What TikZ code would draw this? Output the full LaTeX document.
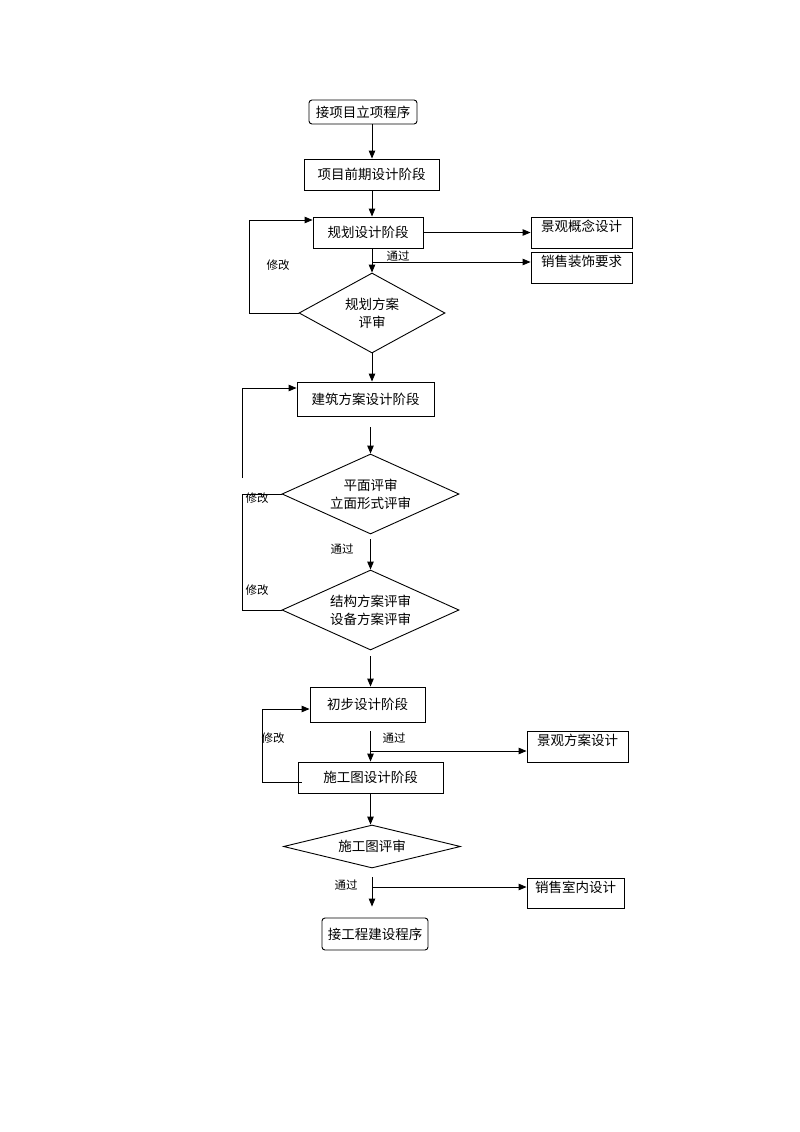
\documentclass[tikz,border=0pt]{standalone}
\usepackage{fontspec}
\setmainfont{Noto Sans CJK SC}
\usetikzlibrary{arrows.meta,shapes.geometric,calc}
\tikzset{
  every node/.style={font=\fontsize{13.5}{18}\selectfont},
  box/.style={draw, line width=0.9pt, inner sep=0pt, align=center},
  rbox/.style={box, rounded corners=3pt},
  side/.style={box, text height=10pt, text depth=12pt, inner ysep=4.5pt},
  dia/.style={draw, diamond, line width=0.9pt, inner sep=0pt, align=center},
  lbl/.style={font=\fontsize{11.5}{13}\selectfont, inner sep=0pt},
  arr/.style={line width=0.9pt, -{Triangle[length=8pt,width=6.5pt]}},
  ln/.style={line width=0.9pt},
}
\begin{document}
\begin{tikzpicture}[x=1pt,y=-1pt]
\useasboundingbox (0,0) rectangle (800,1132);
\fill[white] (0,0) rectangle (800,1132);
% nodes
\node[rbox, minimum width=108pt, minimum height=24pt] (n1) at (363,112) {接项目立项程序};
\node[box, minimum width=135pt, minimum height=31pt] (n2) at (371.5,174.5) {项目前期设计阶段};
\node[box, minimum width=110pt, minimum height=31pt] (n3) at (368,232.5) {规划设计阶段};
\node[side, minimum width=101pt, minimum height=31pt] (s1) at (581.5,232.5) {景观概念设计};
\node[side, minimum width=101pt, minimum height=31pt] (s2) at (581.5,267.5) {销售装饰要求};
\node[dia, aspect=1.825, minimum width=146pt, minimum height=80pt] (d1) at (372,313) {规划方案\\评审};
\node[box, minimum width=137pt, minimum height=34pt] (n4) at (365.5,399) {建筑方案设计阶段};
\node[dia, aspect=2.21, minimum width=177pt, minimum height=80pt] (d2) at (370.5,494) {平面评审\\立面形式评审};
\node[dia, aspect=2.21, minimum width=177pt, minimum height=80pt] (d3) at (370.5,610) {结构方案评审\\设备方案评审};
\node[box, minimum width=115pt, minimum height=35pt] (n5) at (367.5,704.5) {初步设计阶段};
\node[side, minimum width=101pt, minimum height=31pt] (s3) at (577.5,746.5) {景观方案设计};
\node[box, minimum width=145pt, minimum height=31pt] (n6) at (370.5,777.5) {施工图设计阶段};
\node[dia, aspect=4.1, minimum width=177pt, minimum height=43pt] (d4) at (372,846.5) {施工图评审};
\node[side, minimum width=97pt, minimum height=30pt, inner ysep=4pt] (s4) at (575.5,893) {销售室内设计};
\node[rbox, minimum width=106pt, minimum height=32pt] (n7) at (375,934) {接工程建设程序};
% labels
\node[lbl] (t1) at (398,256) {通过};
\node[lbl] (m1) at (278,265) {修改};
\node[lbl] (m2) at (257,498) {修改};
\node[lbl] (t2) at (342,549) {通过};
\node[lbl] (m3) at (257,590) {修改};
\node[lbl] (m4) at (273,738) {修改};
\node[lbl] (t3) at (394,738) {通过};
\node[lbl] (t4) at (346,885) {通过};
% coordinates
\coordinate (sp) at (372,0);
\coordinate (b1) at (372,262);
\coordinate (k1) at (249,220);
\coordinate (k2) at (242,388);
\coordinate (k2b) at (242,478);
\coordinate (k4) at (262,709);
\coordinate (k5) at (262,782);
\coordinate (b3) at (370.5,751);
\coordinate (b4) at (372,887);
% connectors top
\draw[arr] (n1.south -| sp) -- (n2.north -| sp);
\draw[arr] (n2.south -| sp) -- (n3.north -| sp);
\draw[arr] (n3.east) -- (s1.west);
\draw[arr] (n3.south -| sp) -- (d1.north);
\draw[arr] (b1) -- (b1 -| s2.west);
\draw[arr] (d1.west) -| (k1) -- (k1 -| n3.west);
\draw[arr] (d1.south) -- (d1.south |- n4.north);
% middle
\draw[arr] (k2b) -- (k2) -- (k2 -| n4.west);
\draw[ln] (d2.west) -- (d2.west -| k2) -- (d3.west -| k2) -- (d3.west);
\draw[arr] ($(n4.south -| d2.north)+(0,11)$) -- (d2.north);
\draw[arr] ($(d2.south)+(0,5)$) -- (d3.north);
\draw[arr] ($(d3.south)+(0,6)$) -- (d3.south |- n5.north);
% bottom
\draw[arr] ($(n6.west)+(4,4.5)$) -- (k5) -- (k4) -- (k4 -| n5.west);
\draw[arr] ($(n5.south -| n6.north)+(0,9)$) -- (n6.north);
\draw[arr] (b3) -- (b3 -| s3.west);
\draw[arr] (n6.south) -- (n6.south |- d4.north);
\draw[arr] ($(d4.south)+(0,9)$) -- ($(n7.north -| d4.south)+(0,-11)$);
\draw[arr] (b4) -- (b4 -| s4.west);
\end{tikzpicture}
\end{document}
